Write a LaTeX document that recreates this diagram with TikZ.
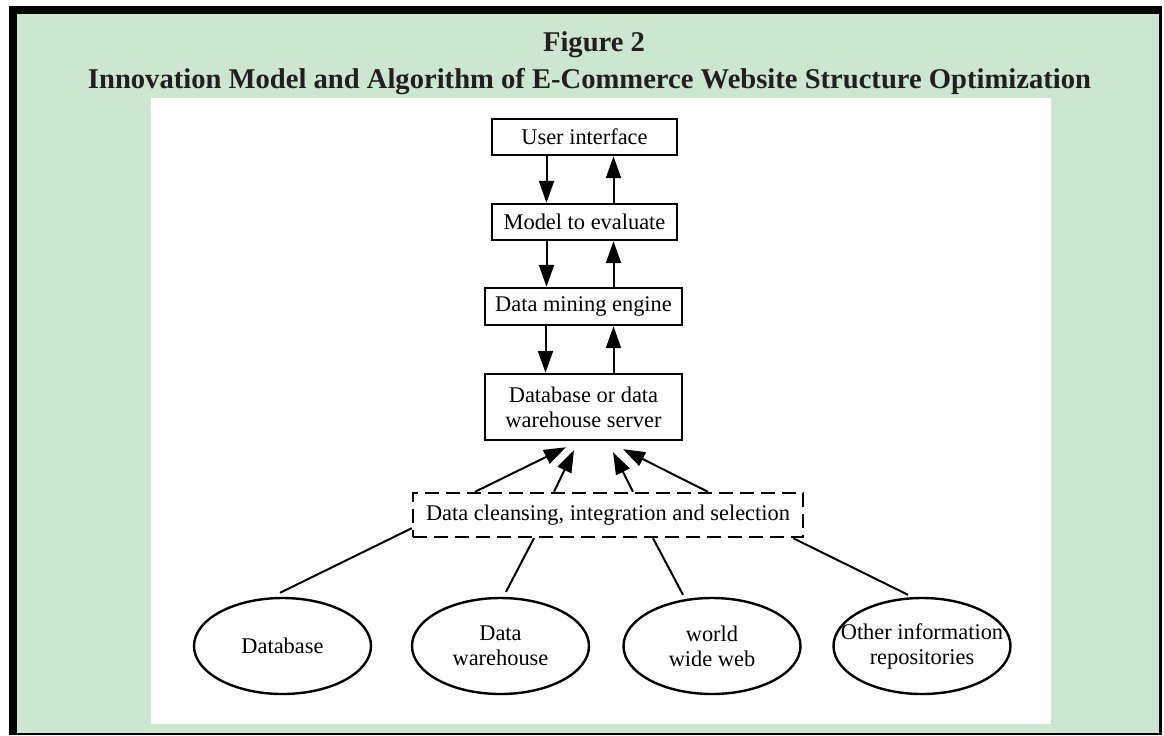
\documentclass[tikz,border=0pt]{standalone}
\usepackage{fontspec}
\setmainfont{Liberation Serif}
\usepackage{tikz}
\usetikzlibrary{arrows.meta,shapes.geometric}
\definecolor{panelgreen}{RGB}{204,230,208}
\definecolor{titleink}{RGB}{35,31,32}
\tikzset{
  box/.style={rectangle, draw, line width=1.2pt, inner sep=0pt, font=\fontsize{11.2}{12.5}\selectfont, align=center},
  src/.style={ellipse, draw, line width=1.2pt, inner sep=0pt, minimum width=88.5pt, minimum height=48pt, font=\fontsize{11.2}{12.5}\selectfont, align=center},
  flow/.style={-{Triangle[length=11pt,width=7.5pt]}, line width=1pt},
  link/.style={line width=1pt},
  heading/.style={anchor=base, text=titleink, font=\fontsize{14.3}{16}\selectfont\bfseries}
}

\begin{document}
\begin{tikzpicture}[x=0.5pt,y=-0.5pt]

\useasboundingbox (0,0) rectangle (1164,735);
\fill[white] (0,0) rectangle (1164,735);
\fill[black] (9,6) rectangle (1162,735);
\fill[panelgreen] (17,14) rectangle (1159.3,732.7);
\fill[white] (151,98) rectangle (1051,724);

\node[heading] (T1) at (594,51) {Figure 2};
\node[heading] (T2) at (589.5,88) {Innovation Model and Algorithm of E-Commerce Website Structure Optimization};

\node[box, minimum width=92.5pt, minimum height=18pt] (B1) at (584.5,137) {User interface};
\node[box, minimum width=92.5pt, minimum height=18pt] (B2) at (584.5,222) {Model to evaluate};
\node[box, minimum width=98.5pt, minimum height=18.5pt] (B3) at (583.5,306.5) {Data mining engine};
\node[box, minimum width=98.5pt, minimum height=33pt] (B4) at (583.5,407) {Database or data\\warehouse server};
\node[box, dash pattern=on 7pt off 3.5pt, minimum width=195pt, minimum height=22pt] (B5) at (608,515) {Data cleansing, integration and selection};

\node[src] (S1) at (282.5,646) {Database};
\node[src] (S2) at (500.5,646) {Data\\warehouse};
\node[src] (S3) at (712,646) {world\\wide web};
\node[src] (S4) at (922,646) {\makebox[0pt]{Other information}\\\makebox[0pt]{repositories}};

\draw[flow] ([xshift=-19pt]B1.south) -- ([xshift=-19pt]B2.north);
\draw[flow] ([xshift=14.5pt]B2.north) -- ([xshift=14.5pt]B1.south);
\draw[flow] ([xshift=-19pt]B2.south) -- ([xshift=-18.5pt]B3.north);
\draw[flow] ([xshift=15pt]B3.north) -- ([xshift=14.5pt]B2.south);
\draw[flow] ([xshift=-19pt]B3.south) -- ([xshift=-19pt]B4.north);
\draw[flow] ([xshift=15pt]B4.north) -- ([xshift=15pt]B3.south);

\draw[flow] ([xshift=-66.5pt]B5.north) -- ([shift={(-17.5,6)}]B4.south);
\draw[flow] ([xshift=-27pt]B5.north) -- ([shift={(-9.5,9)}]B4.south);
\draw[flow] ([xshift=12.5pt]B5.north) -- ([shift={(29.5,11)}]B4.south);
\draw[flow] ([xshift=50pt]B5.north) -- ([shift={(39.5,8)}]B4.south);

\draw[link] ([shift={(0,-10)}]B5.south west) -- ([shift={(-2.5,-4)}]S1.north);
\draw[link] ([xshift=-37pt]B5.south) -- ([shift={(5.5,-5)}]S2.north);
\draw[link] ([xshift=22.5pt]B5.south) -- ([shift={(-29,-2)}]S3.north);
\draw[link] ([xshift=-5.5pt]B5.south east) -- ([shift={(-14,-2)}]S4.north);

\end{tikzpicture}
\end{document}
